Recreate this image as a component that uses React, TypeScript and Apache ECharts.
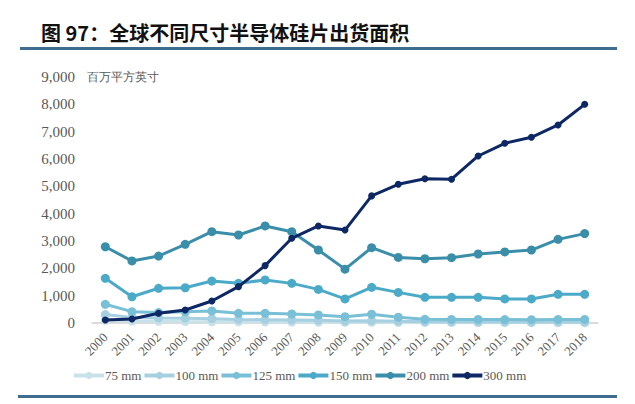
import React, { useEffect, useRef } from 'react'
import * as echarts from 'echarts'

const years = ['2000', '2001', '2002', '2003', '2004', '2005', '2006', '2007', '2008', '2009',
  '2010', '2011', '2012', '2013', '2014', '2015', '2016', '2017', '2018']

const mm75 = [100, 70, 60, 50, 45, 40, 35, 30, 25, 20, 20, 15, 15, 10, 10, 10, 10, 10, 10]
const mm100 = [310, 200, 180, 170, 160, 130, 120, 110, 100, 70, 80, 60, 50, 50, 40, 40, 35, 35, 30]
const mm125 = [685, 415, 380, 410, 440, 355, 355, 330, 295, 230, 320, 210, 135, 130, 130, 125, 120, 130, 130]
const mm150 = [1635, 960, 1270, 1290, 1535, 1450, 1575, 1450, 1230, 880, 1305, 1120, 940, 940, 940, 880, 880, 1050, 1050]
const mm200 = [2790, 2270, 2450, 2880, 3340, 3220, 3550, 3340, 2670, 1970, 2755, 2400, 2350, 2390, 2525, 2600, 2670, 3060, 3270]
const mm300 = [110, 145, 355, 475, 805, 1330, 2100, 3100, 3550, 3400, 4650, 5075, 5280, 5260, 6110, 6575, 6795, 7245, 8000]

const seriesNames = ['75 mm', '100 mm', '125 mm', '150 mm', '200 mm', '300 mm']
const seriesData = [mm75, mm100, mm125, mm150, mm200, mm300]
const seriesColors = ['#c9e2ea', '#a6d0e0', '#79bfd6', '#4baac8', '#3a8ea9', '#0d2864']

const title = '图 97：全球不同尺寸半导体硅片出货面积'
const unitLabel = '百万平方英寸'

const serif = '"Times New Roman", "Liberation Serif", serif'

const App: React.FC = () => {
  const chartRef = useRef<HTMLDivElement>(null)

  useEffect(() => {
    if (!chartRef.current) return
    const chart = echarts.init(chartRef.current, undefined, { renderer: 'svg' })

    const series: echarts.SeriesOption[] = seriesNames.map((name, i) => ({
      type: 'line',
      name,
      data: seriesData[i],
      symbol: 'circle',
      symbolSize: i === 5 ? 7 : 9,
      lineStyle: { color: seriesColors[i], width: 3 },
      itemStyle: { color: seriesColors[i] },
      z: 2 + i
    }))

    const option: echarts.EChartsOption = {
      animation: false,
      backgroundColor: '#ffffff',
      title: {
        text: title,
        left: 36,
        top: 17,
        textStyle: {
          fontFamily: '"Noto Sans CJK SC", sans-serif',
          fontWeight: 'bold',
          fontSize: 20,
          color: '#111111'
        }
      },
      graphic: [
        { type: 'rect', shape: { x: 20, y: 47, width: 597, height: 3 }, style: { fill: '#3f6d90' } },
        { type: 'rect', shape: { x: 18, y: 395, width: 599, height: 3 }, style: { fill: '#3f6d90' } },
        {
          type: 'text',
          x: 87,
          y: 77,
          style: {
            text: unitLabel,
            font: `12px ${serif}`,
            fill: '#595959',
            verticalAlign: 'middle'
          }
        }
      ],
      legend: {
        left: 67,
        top: 364,
        itemWidth: 30,
        itemHeight: 9,
        itemGap: 1,
        data: seriesNames,
        lineStyle: { width: 4 },
        textStyle: { fontFamily: serif, fontSize: 13, color: '#595959', padding: [0, 0, 0, -4] }
      },
      grid: { left: 92, right: 37, top: 77, bottom: 81 },
      xAxis: {
        type: 'category',
        data: years,
        boundaryGap: true,
        axisLine: { lineStyle: { color: '#d0d0d0', width: 1.5 } },
        axisTick: { show: false },
        axisLabel: {
          rotate: 45,
          margin: 12,
          fontFamily: serif,
          fontSize: 13,
          color: '#595959',
          interval: 0
        }
      },
      yAxis: {
        type: 'value',
        min: 0,
        max: 9000,
        interval: 1000,
        splitLine: { show: false },
        axisLine: { show: false },
        axisTick: { show: false },
        axisLabel: {
          margin: 17,
          fontFamily: serif,
          fontSize: 15,
          color: '#595959',
          formatter: (v: number) => v.toLocaleString('en-US')
        }
      },
      series
    }

    chart.setOption(option)
    return () => chart.dispose()
  }, [])

  return (
    <div
      ref={chartRef}
      style={{ position: 'fixed', left: 0, top: 0, width: 635, height: 404 }}
    />
  )
}

export default App
